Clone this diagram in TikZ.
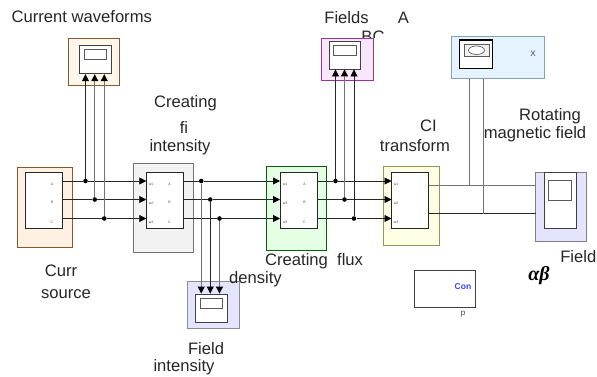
\documentclass[tikz,border=0pt]{standalone}
\usepackage{fontspec}
\setmainfont{Liberation Sans}
\newfontfamily\greekfont{Liberation Serif}
\usetikzlibrary{arrows.meta}
\usetikzlibrary{calc}
\usetikzlibrary{shapes.geometric}

\definecolor{srcfill}{HTML}{FEF1E4}
\definecolor{wavefill}{HTML}{FFF7EA}
\definecolor{grayfill}{HTML}{F2F2F2}
\definecolor{greenfill}{HTML}{E4FFE4}
\definecolor{yellowfill}{HTML}{FFFFE5}
\definecolor{purplefill}{HTML}{F8E6FB}
\definecolor{bluefill}{HTML}{E4F3FF}
\definecolor{lavfill}{HTML}{E4E4FF}

\tikzset{
  panel/.style={draw, line width=0.8pt, inner sep=0pt, minimum width=#1},
  blk/.style={draw=black!85, fill=white, line width=0.8pt, inner sep=0pt, minimum width=37pt, minimum height=56pt},
  scopebody/.style={draw=black!75, fill=white, line width=0.9pt, inner sep=0pt, minimum width=32pt, minimum height=28pt},
  screen/.style={draw=black!65, fill=white, line width=0.7pt, inner sep=0pt, minimum width=22.5pt, minimum height=10pt},
  lbl/.style={font=\fontsize{16.6}{18}\selectfont, inner sep=0pt, text=black!85},
  tinylbl/.style={font=\fontsize{3.5}{4}\selectfont, inner sep=0pt, text=black!70},
  dot/.style={circle, fill=black, inner sep=0pt, minimum size=4.6pt},
  sigdark/.style={draw=black!85, line width=0.8pt},
  siggray/.style={draw=black!55, line width=1.1pt},
  sigtip/.style={-{Triangle[length=7pt,width=7pt,color=black]}}
}

\begin{document}
\begin{tikzpicture}[x=1pt,y=-1pt]
\useasboundingbox (0,0) rectangle (597,377);

% coloured panels
\node[panel=55.5pt, minimum height=79.5pt, fill=srcfill, draw=brown!70!black] (srcbg) at (44.75,207.25) {};
\node[panel=51pt, minimum height=47.5pt, fill=wavefill, draw=brown!70!black] (wavebg) at (94,61.75) {};
\node[panel=60.5pt, minimum height=89pt, fill=grayfill, draw=black!55] (fieldbg) at (163.25,207.5) {};
\node[panel=60pt, minimum height=84.5pt, fill=greenfill, draw=green!40!black] (fluxbg) at (296.5,208.25) {};
\node[panel=55.5pt, minimum height=79pt, fill=yellowfill, draw=olive!70!black!70] (clbg) at (411.25,205.5) {};
\node[panel=51.5pt, minimum height=42pt, fill=purplefill, draw=violet!80] (abcbg) at (347.25,59) {};
\node[panel=92.5pt, minimum height=42pt, fill=bluefill, draw=cyan!40!black!60] (xybg) at (497.75,57.5) {};
\node[panel=51.5pt, minimum height=47pt, fill=lavfill, draw=black!45] (intbg) at (213.25,305) {};
\node[panel=50.5pt, minimum height=69pt, fill=lavfill, draw=black!50] (rotbg) at (560.75,206.5) {};
\fill[white] (534,170) rectangle (588,171.6);

% blocks
\node[blk] (srcblk) at (44,200.5) {};
\node[blk] (fieldblk) at (164.75,200.5) {};
\node[blk, minimum width=37.5pt] (fluxblk) at (298.75,200.5) {};
\node[blk] (clblk) at (410,200.5) {};
\node[draw=black!75, fill=white, line width=0.8pt, inner sep=0pt, minimum width=61pt, minimum height=37pt] (conblk) at (445,289) {};

% scopes
\node[scopebody] (wavesc) at (95,59.75) {};
\node[screen] (wavescr) at (95.25,54.5) {};
\node[scopebody, minimum width=31.5pt, minimum height=27.5pt] (abcsc) at (344.75,55.25) {};
\node[screen] (abcscr) at (344.75,50) {};
\node[scopebody, minimum width=32.5pt] (intsc) at (211.25,308) {};
\node[screen] (intscr) at (211.25,303) {};
\node[scopebody, minimum width=32.5pt, minimum height=56pt] (rotsc) at (560.25,200.5) {};
\node[screen, minimum width=23pt, minimum height=20pt] (rotscr) at (560,190.5) {};
\node[draw=black, fill=white, line width=1.1pt, inner sep=0pt, minimum width=33pt, minimum height=28.5pt] (xysc) at (476,54.25) {};
\node[draw=black!65, fill=black!6, line width=0.7pt, inner sep=0pt, minimum width=25pt, minimum height=11.5pt] (xyscr) at (476.5,50.25) {};
\node[draw=black!70, fill=white, ellipse, line width=0.6pt, inner sep=0pt, minimum width=16pt, minimum height=8.5pt] (xyorb) at (476.5,50.25) {};

% ports and junctions
\foreach \nm/\yy in {a/181,b/199.5,c/218.5} {
  \coordinate (srcout\nm) at (62.5,\yy);
  \coordinate (fieldin\nm) at (146.25,\yy);
  \coordinate (fieldout\nm) at (183.25,\yy);
  \coordinate (fluxin\nm) at (280,\yy);
  \coordinate (fluxout\nm) at (317.5,\yy);
  \coordinate (clin\nm) at (391.5,\yy);
}
\node[dot] (wja) at (85.5,181) {};
\node[dot] (wjb) at (94.75,199.5) {};
\node[dot] (wjc) at (104.25,218.5) {};
\node[dot] (ija) at (201.25,181) {};
\node[dot] (ijb) at (210.25,199.5) {};
\node[dot] (ijc) at (219.5,218.5) {};
\node[dot] (aja) at (335.5,181) {};
\node[dot] (ajb) at (344.5,199.5) {};
\node[dot] (ajc) at (354,218.5) {};

% three phase lines
\draw[sigdark, sigtip] (srcouta) -- (wja) -- (fieldina);
\draw[sigdark, sigtip] (srcoutb) -- (wjb) -- (fieldinb);
\draw[sigdark, sigtip] (srcoutc) -- (wjc) -- (fieldinc);
\draw[sigdark, sigtip] (fieldouta) -- (ija) -- (fluxina);
\draw[sigdark, sigtip] (fieldoutb) -- (ijb) -- (fluxinb);
\draw[sigdark, sigtip] (fieldoutc) -- (ijc) -- (fluxinc);
\draw[sigdark, sigtip] (fluxouta) -- (aja) -- (clina);
\draw[sigdark, sigtip] (fluxoutb) -- (ajb) -- (clinb);
\draw[sigdark, sigtip] (fluxoutc) -- (ajc) -- (clinc);

% branches up and down
\draw[sigdark, sigtip] (wja) -- (wja |- wavesc.south);
\draw[siggray, sigtip] (wjb) -- (wjb |- wavesc.south);
\draw[siggray, sigtip] (wjc) -- (wjc |- wavesc.south);
\draw[siggray, sigtip] (ija) -- (ija |- intsc.north);
\draw[sigdark, sigtip] (ijb) -- (ijb |- intsc.north);
\draw[siggray, sigtip] (ijc) -- (ijc |- intsc.north);
\draw[sigdark, sigtip] (aja) -- (aja |- abcsc.south);
\draw[siggray, sigtip] (ajb) -- (ajb |- abcsc.south);
\draw[sigdark, sigtip] (ajc) -- (ajc |- abcsc.south);

% alpha beta lines
\coordinate (cloutx) at (428.5,185.5);
\coordinate (clouty) at (428.5,213.5);
\coordinate (rotinx) at (536,185.5);
\coordinate (rotiny) at (536,213.5);
\coordinate (xjx) at (469.5,185.5);
\coordinate (xjy) at (483,213.5);
\draw[siggray, line width=0.9pt] (cloutx) -- (rotinx);
\draw[sigdark] (clouty) -- (rotiny);
\draw[siggray, line width=0.9pt] (xjx) -- (xjx |- xybg.south);
\draw[siggray, line width=0.9pt] (xjy) -- (xjy |- xybg.south);

% tiny port text
\foreach \nm/\yy/\ptxt in {a/184/A,b/202.5/B,c/222/C} {
  \node[tinylbl] (srcp\nm) at (52,\yy) {\ptxt};
  \node[tinylbl] (fieldp\nm) at (169.5,\yy) {\ptxt};
  \node[tinylbl] (fluxp\nm) at (304.5,\yy) {\ptxt};
}
\foreach \xx/\nmpre in {151/fieldq,285/fluxq,396/clq} {
  \node[tinylbl] (\nmpre a) at (\xx,184.5) {w1};
  \node[tinylbl] (\nmpre b) at (\xx,203) {w2};
  \node[tinylbl] (\nmpre c) at (\xx,222.5) {w3};
}

% labels
\node[lbl, anchor=west] (wavelbl) at (11.5,17) {Current waveforms};
\node[lbl] (crealbl) at (185.5,103) {Creating};
\node[lbl] (filbl) at (184,127) {fi};
\node[lbl] (intenlbl) at (180,147) {intensity};
\node[lbl] (fieldslbl) at (346.5,18) {Fields};
\node[lbl] (alabel) at (403.5,18) {A};
\begin{scope}
\clip (350,25) rectangle (400,37.7);
\node[lbl] (bclbl) at (373,36.5) {BC};
\end{scope}
\node[lbl] (cilbl) at (428.5,126) {CI};
\node[lbl] (translbl) at (415,146) {transform};
\node[lbl] (rotlbl) at (550,116) {Rotating};
\node[lbl] (maglbl) at (535,134) {magnetic field};
\node[lbl] (currlbl) at (61,271) {Curr};
\node[lbl] (srclbl) at (66,294) {source};
\node[lbl, anchor=west] (fluxlbl) at (265,261) {Creating\ \ flux};
\node[lbl, anchor=west] (denslbl) at (229,279) {density};
\node[lbl] (fieldlbl) at (206,349) {Field};
\node[lbl] (intlbl) at (184,367) {intensity};
\node[lbl, anchor=east] (rfieldlbl) at (596.5,257) {Field};
\node[inner sep=0pt, font=\fontsize{20}{22}\selectfont\greekfont\bfseries\itshape] (ablbl) at (539,276) {αβ};
\node[inner sep=0pt, font=\fontsize{8.5}{9}\selectfont\bfseries, text=blue!75] (conlbl) at (463,287) {Con};
\node[inner sep=0pt, font=\fontsize{8}{9}\selectfont, text=black!75] (plbl) at (463,314) {p};
\node[inner sep=0pt, font=\fontsize{8}{9}\selectfont, text=black!75] (xlbl) at (533,53.5) {X};
\end{tikzpicture}
\end{document}
